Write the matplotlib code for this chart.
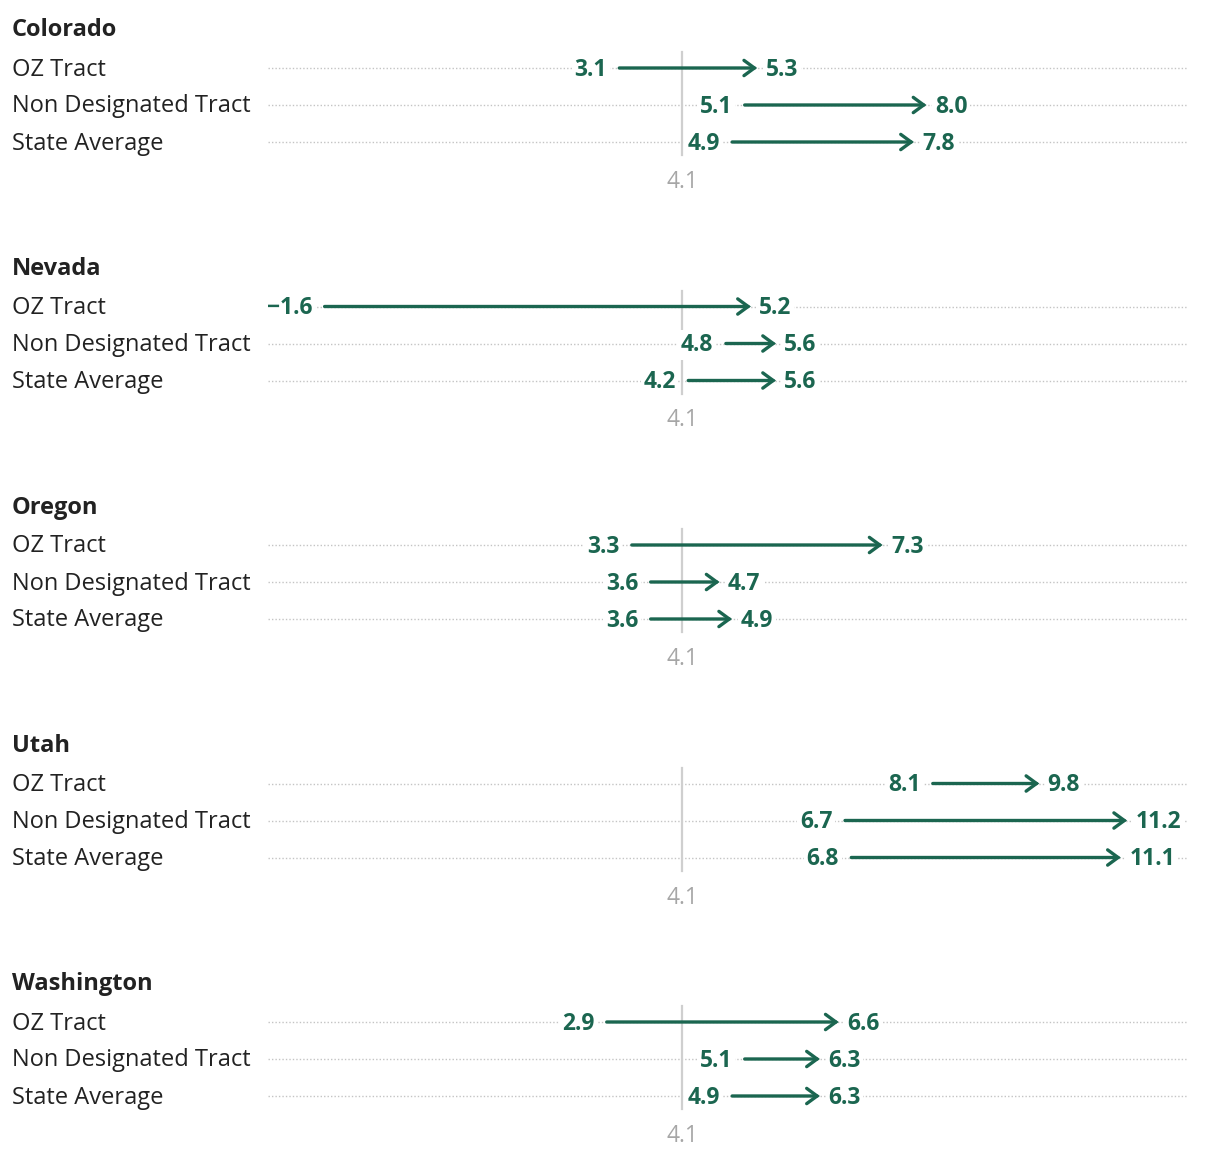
import matplotlib
matplotlib.use('Agg')
import matplotlib.pyplot as plt
from matplotlib import transforms

plt.rcParams['font.family'] = ['Open Sans', 'DejaVu Sans']

states = ['Colorado', 'Nevada', 'Oregon', 'Utah', 'Washington']
categories = ['OZ Tract', 'Non Designated Tract', 'State Average']
start_vals = [
    [3.1, 5.1, 4.9],
    [-1.6, 4.8, 4.2],
    [3.3, 3.6, 3.6],
    [8.1, 6.7, 6.8],
    [2.9, 5.1, 4.9],
]
end_vals = [
    [5.3, 8.0, 7.8],
    [5.2, 5.6, 5.6],
    [7.3, 4.7, 4.9],
    [9.8, 11.2, 11.1],
    [6.6, 6.3, 6.3],
]
ref_value = 4.1

green = '#1b6650'
grey_txt = '#a6a6a6'

W, H = 1220, 1162
fig = plt.figure(figsize=(W / 100, H / 100), dpi=100)
ax = fig.add_axes([0, 0, 1, 1])
ax.set_xlim(-6.777, 12.681)
ax.set_ylim(H, 0)
ax.axis('off')

lab_tr = transforms.blended_transform_factory(ax.transAxes, ax.transData)

def fmt(v):
    s = '%.1f' % abs(v)
    return ('\u2212' + s) if v < 0 else s

panel_top = 29
panel_step = 238.5
row_off = [39, 76, 113]

for i, st in enumerate(states):
    y0 = panel_top + i * panel_step
    ax.text(12 / W, y0 + 1.5, st, transform=lab_tr, fontsize=17, fontweight='bold',
            color='#222222', va='center', ha='left')
    # reference line
    ax.plot([ref_value, ref_value], [y0 + 23, y0 + 126], color='#cfcfcf', lw=1.6, zorder=1)
    ax.text(ref_value, y0 + 153, fmt(ref_value), color=grey_txt, fontsize=16.5,
            ha='center', va='center')
    for j, cat in enumerate(categories):
        y = y0 + row_off[j]
        ax.text(12 / W, y + 1.5, cat, transform=lab_tr, fontsize=17, color='#222222',
                va='center', ha='left')
        ax.axhline(y, xmin=268 / W, xmax=1188 / W, color='#c4c4c4', lw=1.0,
                   ls=(0, (1, 1.5)), zorder=0)
        s, e = start_vals[i][j], end_vals[i][j]
        ax.annotate('', xy=(e, y), xytext=(s, y),
                    arrowprops=dict(arrowstyle='->,head_length=0.75,head_width=0.55',
                                    color=green, lw=2.4, shrinkA=0, shrinkB=0,
                                    capstyle='round', joinstyle='miter'),
                    zorder=3)
        bb = dict(boxstyle='square,pad=0.12', fc='white', ec='none')
        ax.annotate(fmt(s), xy=(s, y), xytext=(-9, -1.2), textcoords='offset points',
                    ha='right', va='center', fontsize=16.5, fontweight='bold',
                    color=green, bbox=bb, zorder=4)
        ax.annotate(fmt(e), xy=(e, y), xytext=(6, -1.2), textcoords='offset points',
                    ha='left', va='center', fontsize=16.5, fontweight='bold',
                    color=green, bbox=bb, zorder=4)

fig.savefig('out.png', dpi=100)
